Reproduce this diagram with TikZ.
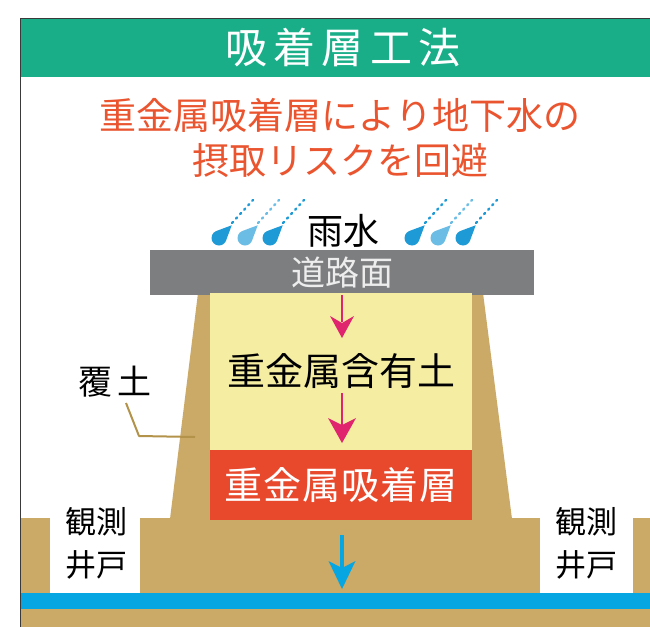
\documentclass[tikz,border=0pt]{standalone}
\usepackage{fontspec}
\setmainfont{Noto Sans CJK JP}

\definecolor{headergreen}{HTML}{19AE88}
\definecolor{framegray}{HTML}{3A3A3A}
\definecolor{subred}{HTML}{EA5530}
\definecolor{roadgray}{HTML}{7D7E80}
\definecolor{roadtext}{HTML}{EDEDED}
\definecolor{soiltan}{HTML}{CBA967}
\definecolor{leadertan}{HTML}{B3934A}
\definecolor{metalyellow}{HTML}{F4EDA2}
\definecolor{layerred}{HTML}{E8482C}
\definecolor{arrowpink}{HTML}{E0246E}
\definecolor{waterblue}{HTML}{06A6E2}
\definecolor{dropdark}{HTML}{1E9BD7}
\definecolor{droplight}{HTML}{6BBDE5}

\newcommand{\fsz}[1]{\fontsize{#1}{#1}\selectfont}

\tikzset{
  titletext/.style={text=white, inner sep=0, font=\fsz{42}\addfontfeatures{LetterSpace=15}},
  subtitle/.style={text=subred, inner sep=0, align=center, font=\fontsize{37}{45}\selectfont},
  roadbox/.style={fill=roadgray, text=roadtext, inner sep=0, minimum width=384, minimum height=45, font=\fsz{34}},
  metalbox/.style={fill=metalyellow, text=black, inner sep=0, minimum width=262, minimum height=157, font=\fsz{38}},
  layerbox/.style={fill=layerred, text=white, inner sep=0, minimum width=262, minimum height=70, font=\fsz{38}\addfontfeatures{LetterSpace=3}},
  label/.style={text=black, inner sep=0, font=\fsz{36}},
  welllabel/.style={text=black, inner sep=0, align=center, font=\fontsize{31}{43}\selectfont},
  leader/.style={draw=leadertan, line width=2, line join=round},
  pinkshaft/.style={draw=arrowpink, line width=2.5},
  blueshaft/.style={draw=waterblue, line width=4},
  % downward arrow head with a notched back, tip at the pic origin
  pics/headdown/.style args={#1/#2/#3}{code={
    \fill[#1] (0,0) -- (-#2/2,-#3) -- (0,-#3+7) -- (#2/2,-#3) -- cycle;
  }},
  pics/raindrop/.style={code={
    \fill[#1] (-45:18) -- (23:7.5) arc[start angle=23, end angle=247, radius=7.5] -- cycle;
    \draw[#1, line width=2.4, line cap=round, dash pattern=on 1.5pt off 4.5pt] (13,-15) -- (34,-38);
  }}
}

\begin{document}
\begin{tikzpicture}[x=1pt,y=-1pt]
  \useasboundingbox (0,0) rectangle (650,626);
  \clip (0,0) rectangle (650,626);
  \fill[white] (0,0) rectangle (650,626);

  % header band and frame
  \fill[headergreen] (21,19) rectangle (660,77);
  \draw[framegray, line width=1.5] (20.5,700) -- (20.5,18.5) -- (700,18.5);
  \node[titletext] (title) at (343,48) {吸着層工法};

  % headline
  \node[subtitle] (headline) at (340,137.5) {重金属吸着層により地下水の\\摂取リスクを回避};

  % ground, observation wells, embankment and groundwater
  \fill[soiltan] (21,518) rectangle (660,640);
  \fill[white] (50,518) rectangle (140,593);
  \fill[white] (540,518) rectangle (633,593);
  \fill[soiltan] (198,293) -- (483,293) -- (512,519) -- (170,519) -- cycle;
  \fill[waterblue] (21,593) rectangle (660,609);

  % rain
  \pic at (219,238) {raindrop=dropdark};
  \pic at (245,238) {raindrop=droplight};
  \pic at (270,238) {raindrop=dropdark};
  \pic at (412,238) {raindrop=dropdark};
  \pic at (438,238) {raindrop=droplight};
  \pic at (463,238) {raindrop=dropdark};
  \node[label] (rain) at (343,231) {雨水};

  % road and layers
  \node[roadbox] (road) at (342,272.5) {道路面};
  \node[metalbox] (metal) at (341,371.5) {重金属含有土};
  \node[layerbox] (layer) at (341,485) {重金属吸着層};

  % labels
  \node[label, font=\fsz{34}\addfontfeatures{LetterSpace=12}] (cover) at (115,382) {覆土};
  \node[welllabel] (wellL) at (96,543.5) {観測\\井戸};
  \node[welllabel] (wellR) at (586,543.5) {観測\\井戸};

  % leader from the cover-soil label to the embankment slope
  \coordinate (bend) at (139,436);
  \coordinate (slope) at (195,437);
  \draw[leader] (126,403) -- (bend) -- (slope);

  % flow arrows
  \coordinate (a1neck) at (342,322);
  \coordinate (a1end) at (342,338);
  \coordinate (a2start) at (342,393);
  \coordinate (a2neck) at (342,426);
  \coordinate (a2end) at (342,443);
  \coordinate (a3start) at (342,535);
  \coordinate (a3neck) at (342,570);
  \coordinate (a3end) at (342,589);
  \draw[pinkshaft] (road.south) -- (a1neck);
  \pic at (a1end) {headdown=arrowpink/24/22};
  \draw[pinkshaft] (a2start) -- (a2neck);
  \pic at (a2end) {headdown=arrowpink/28/25};
  \draw[blueshaft] (a3start) -- (a3neck);
  \pic at (a3end) {headdown=waterblue/27/28};
\end{tikzpicture}
\end{document}
